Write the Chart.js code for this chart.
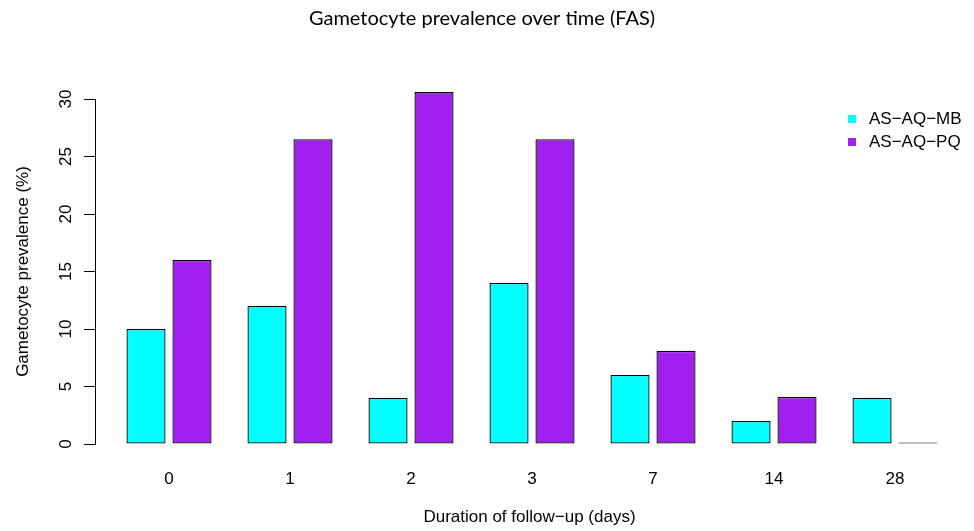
<!DOCTYPE html>
<html>
<head>
<meta charset="utf-8">
<script src="https://cdn.jsdelivr.net/npm/chart.js@4.4.1/dist/chart.umd.min.js"></script>
<style>
  html, body { margin: 0; padding: 0; background: #fff; }
</style>
</head>
<body>
<canvas id="chart" width="974" height="531"></canvas>
<script>
const days = ['0', '1', '2', '3', '7', '14', '28'];
const mbValues = [10, 12, 4, 14, 6, 2, 4];
const pqValues = [16, 26.5, 30.6, 26.5, 8.1, 4.1, 0];
const yTicks = [0, 5, 10, 15, 20, 25, 30];
const seriesNames = ['AS\u2212AQ\u2212MB', 'AS\u2212AQ\u2212PQ'];

const FONT = '"Liberation Sans", Arial, sans-serif';
Chart.defaults.font.family = FONT;
Chart.defaults.font.size = 17;
Chart.defaults.color = '#000';

// R style rotated y tick labels
const yTickLabels = {
  id: 'yTickLabels',
  afterDraw(chart) {
    const { ctx, chartArea } = chart;
    const y = chart.scales.y;
    ctx.save();
    ctx.font = '17px ' + FONT;
    ctx.fillStyle = '#000';
    ctx.textAlign = 'center';
    ctx.textBaseline = 'middle';
    y.ticks.forEach(t => {
      ctx.save();
      ctx.translate(chartArea.left - 29, y.getPixelForValue(t.value));
      ctx.rotate(-Math.PI / 2);
      ctx.fillText(String(t.value), 0, 0);
      ctx.restore();
    });
    ctx.restore();
  }
};

// legend sits inside the plot, top right
const insideLegend = {
  id: 'insideLegend',
  afterDraw(chart) {
    const { ctx, chartArea } = chart;
    const x = chartArea.right - 116;
    ctx.save();
    ctx.font = '17px ' + FONT;
    ctx.textBaseline = 'middle';
    chart.data.datasets.forEach((ds, i) => {
      const cy = chartArea.top + 20 + i * 23;
      ctx.fillStyle = ds.backgroundColor;
      ctx.fillRect(x, cy - 4, 8, 8);
      ctx.fillStyle = '#000';
      ctx.fillText(ds.label, x + 21, cy);
    });
    ctx.restore();
  }
};

const toPoints = vals => vals.map((v, i) => ({ x: i, y: v }));

new Chart(document.getElementById('chart'), {
  type: 'bar',
  data: {
    datasets: [
      { label: seriesNames[0], data: toPoints(mbValues), backgroundColor: '#00FFFF' },
      { label: seriesNames[1], data: toPoints(pqValues), backgroundColor: '#A020F0' },
    ],
  },
  options: {
    responsive: false,
    animation: false,
    layout: { padding: { left: 0, right: 10, top: 0, bottom: 0 } },
    datasets: {
      bar: {
        borderColor: '#000',
        borderWidth: 1.3,
        borderSkipped: false,
        inflateAmount: 0,
        minBarLength: 1.5,
        categoryPercentage: 0.76,
        barPercentage: 0.85,
        clip: false,
      },
    },
    plugins: {
      legend: { display: false },
      tooltip: { enabled: false },
      title: {
        display: true,
        text: 'Gametocyte prevalence over time (FAS)',
        font: { family: 'Lato', size: 20, weight: 'normal' },
        padding: { top: 7, bottom: 68 },
      },
    },
    scales: {
      x: {
        type: 'linear',
        offset: false,
        min: -0.6116,
        max: 6.57,
        afterFit: s => { s.height = 87; },
        grid: { display: false, drawTicks: false, offset: false },
        border: { display: false },
        ticks: {
          stepSize: 1,
          includeBounds: false,
          autoSkip: false,
          padding: 25,
          maxRotation: 0,
          callback: v => days[v] ?? '',
        },
        title: {
          display: true,
          text: 'Duration of follow\u2212up (days)',
          padding: { top: 20, bottom: 3 },
        },
      },
      y: {
        min: 0,
        max: 30,
        afterBuildTicks: s => { s.ticks = yTicks.map(v => ({ value: v })); },
        afterFit: s => { s.width = 95; },
        grid: { drawOnChartArea: false, drawTicks: true, tickLength: 11, color: '#000' },
        border: { display: true, color: '#000' },
        ticks: { color: 'rgba(0,0,0,0)' },
        title: {
          display: true,
          text: 'Gametocyte prevalence (%)',
          padding: { top: 13, bottom: 0 },
        },
      },
    },
  },
  plugins: [yTickLabels, insideLegend],
});
</script>
</body>
</html>
